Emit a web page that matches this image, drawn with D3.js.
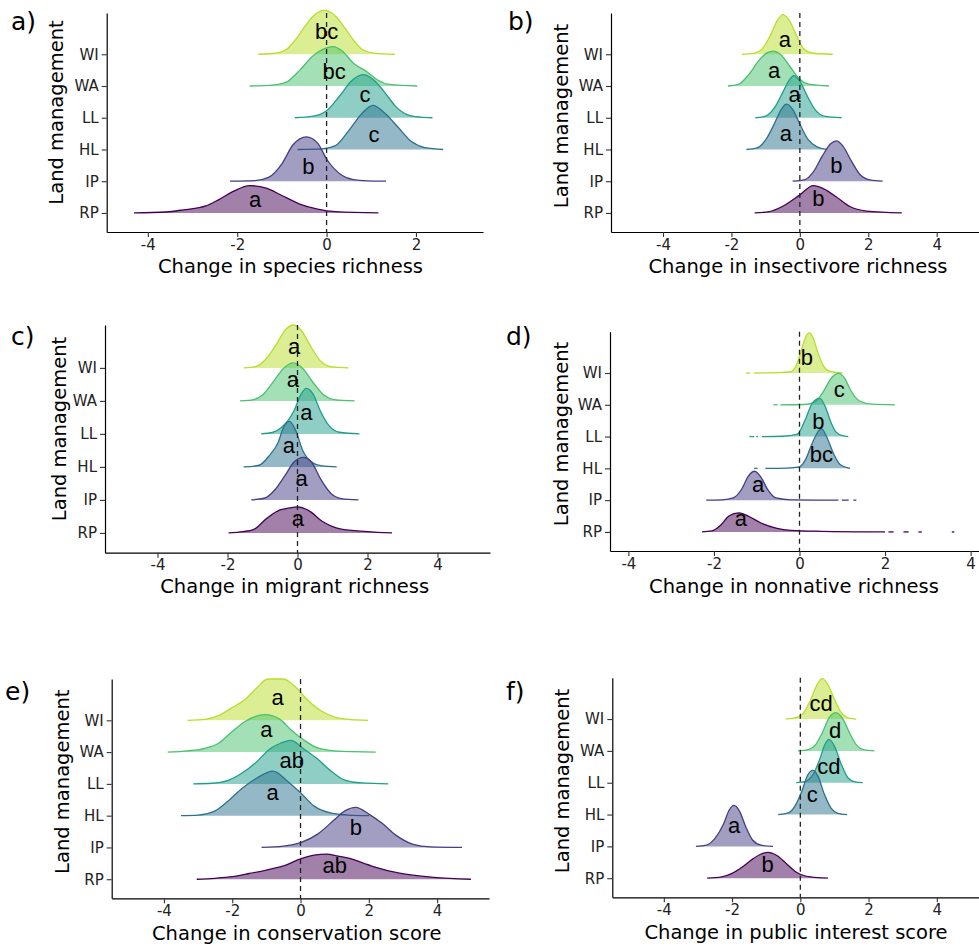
<!DOCTYPE html>
<html>
<head>
<meta charset="utf-8">
<script src="https://cdn.jsdelivr.net/npm/d3@7"></script>
<style>
  body { margin: 0; background: #fff; }
  text { font-family: "DejaVu Sans", sans-serif; }
</style>
</head>
<body>
<script>
// land management groups, bottom to top on the y axis
var groups = ["RP", "IP", "HL", "LL", "WA", "WI"];
// ridge colours, same order as groups
var ridgeColors = ["#440154", "#433e85", "#2c718e", "#1f9e89", "#49c16d", "#b8de29"];

// each ridge: [x, height above its baseline in category units], listed WI, WA, LL, HL, IP, RP
var richRidges = [
  [[-1.53,0],[-1.1,0.04],[-0.9,0.15],[-0.7,0.45],[-0.5,0.85],[-0.3,1.2],[-0.05,1.38],[0.2,1.2],[0.4,0.85],[0.6,0.45],[0.8,0.15],[1.1,0.03],[1.53,0]],
  [[-1.72,0],[-1.2,0.03],[-0.9,0.12],[-0.6,0.5],[-0.3,0.95],[0.0,1.2],[0.15,1.24],[0.35,1.1],[0.6,0.72],[0.9,0.45],[1.15,0.18],[1.4,0.05],[2.03,0]],
  [[-0.71,0],[-0.3,0.05],[0.0,0.22],[0.3,0.7],[0.55,1.15],[0.82,1.36],[1.05,1.2],[1.3,0.8],[1.55,0.35],[1.8,0.1],[2.1,0.02],[2.37,0]],
  [[-0.65,0],[-0.1,0.02],[0.2,0.12],[0.5,0.6],[0.8,1.15],[1.04,1.39],[1.3,1.15],[1.6,0.7],[1.9,0.25],[2.2,0.06],[2.61,0]],
  [[-2.16,0],[-1.6,0.02],[-1.3,0.12],[-1.0,0.55],[-0.75,1.15],[-0.45,1.4],[-0.2,1.2],[0.0,0.7],[0.35,0.18],[0.6,0.05],[0.9,0.01],[1.33,0]],
  [[-4.31,0],[-3.6,0.03],[-3.2,0.1],[-2.7,0.22],[-2.4,0.43],[-2.1,0.67],[-1.72,0.86],[-1.35,0.78],[-1.0,0.55],[-0.6,0.28],[-0.2,0.12],[0.2,0.04],[1.16,0]]
];
var richLetters = ["bc", "bc", "c", "c", "b", "a"];
var richLetterX = [0, 0.17, 0.86, 1.06, -0.41, -1.6];
var richLetterH = [0.48, 0.23, 0.49, 0.24, 0.23, 0.19];

var insectRidges = [
  [[-1.69,0],[-1.35,0.03],[-1.1,0.17],[-0.85,0.62],[-0.65,1.08],[-0.49,1.25],[-0.3,1.05],[-0.1,0.6],[0.1,0.18],[0.35,0.04],[0.96,0]],
  [[-2.1,0],[-1.8,0.05],[-1.5,0.35],[-1.2,0.8],[-0.95,1.05],[-0.78,1.1],[-0.55,0.98],[-0.3,0.63],[-0.05,0.27],[0.25,0.06],[0.85,0]],
  [[-1.3,0],[-1.0,0.05],[-0.75,0.3],[-0.5,0.8],[-0.3,1.2],[-0.18,1.33],[0.0,1.15],[0.2,0.72],[0.45,0.25],[0.75,0.04],[1.22,0]],
  [[-1.56,0],[-1.25,0.05],[-1.0,0.3],[-0.75,0.8],[-0.55,1.25],[-0.39,1.43],[-0.2,1.25],[0.0,0.8],[0.25,0.3],[0.5,0.08],[0.78,0]],
  [[-0.21,0],[0.15,0.05],[0.4,0.3],[0.65,0.78],[0.9,1.18],[1.07,1.27],[1.25,1.12],[1.5,0.65],[1.75,0.22],[2.05,0.04],[2.42,0]],
  [[-1.32,0],[-0.9,0.04],[-0.5,0.21],[0.0,0.57],[0.39,0.86],[0.7,0.76],[1.05,0.52],[1.45,0.21],[1.95,0.06],[2.98,0]]
];
var insectLetters = ["a", "a", "a", "a", "b", "b"];
var insectLetterX = [-0.44, -0.75, -0.15, -0.41, 1.07, 0.54];
var insectLetterH = [0.23, 0.26, 0.5, 0.26, 0.26, 0.21];

var migrantRidges = [
  [[-1.54,0],[-1.2,0.04],[-0.9,0.27],[-0.6,0.72],[-0.35,1.15],[-0.11,1.3],[0.1,1.15],[0.35,0.7],[0.65,0.22],[0.95,0.04],[1.46,0]],
  [[-1.64,0],[-1.25,0.04],[-1.0,0.18],[-0.7,0.57],[-0.4,0.98],[-0.13,1.15],[0.15,0.98],[0.45,0.55],[0.75,0.18],[1.05,0.04],[1.63,0]],
  [[-1.04,0],[-0.7,0.05],[-0.45,0.2],[-0.1,0.7],[0.1,1.2],[0.25,1.38],[0.45,1.2],[0.65,0.7],[0.9,0.25],[1.2,0.05],[1.77,0]],
  [[-1.54,0],[-1.1,0.05],[-0.8,0.35],[-0.55,0.75],[-0.4,1.2],[-0.23,1.38],[-0.05,1.1],[0.15,0.5],[0.4,0.15],[0.7,0.03],[1.12,0]],
  [[-1.32,0],[-0.95,0.05],[-0.65,0.3],[-0.35,0.75],[-0.1,1.15],[0.17,1.29],[0.4,1.15],[0.65,0.65],[0.95,0.2],[1.25,0.04],[1.74,0]],
  [[-1.97,0],[-1.55,0.04],[-1.26,0.1],[-0.88,0.44],[-0.5,0.7],[-0.3,0.74],[0.0,0.79],[0.3,0.69],[0.74,0.33],[1.22,0.12],[1.98,0.04],[2.7,0]]
];
var migrantLetters = ["a", "a", "a", "a", "a", "a"];
var migrantLetterX = [-0.1, -0.13, 0.25, -0.25, 0.12, 0.01];
var migrantLetterH = [0.41, 0.41, 0.41, 0.42, 0.41, 0.2];

var nonnativeRidges = [
  [[-1.06,0],[-0.5,0.01],[-0.2,0.04],[-0.06,0.29],[0.05,0.75],[0.15,1.15],[0.23,1.26],[0.32,1.1],[0.42,0.68],[0.55,0.25],[0.7,0.06],[1.0,0]],
  [[-0.45,0],[0.1,0.01],[0.35,0.08],[0.55,0.4],[0.75,0.85],[0.91,0.99],[1.05,0.85],[1.2,0.45],[1.4,0.12],[1.7,0.02],[2.23,0]],
  [[-0.88,0],[-0.4,0.01],[-0.05,0.08],[0.13,0.52],[0.3,1.05],[0.47,1.2],[0.6,0.95],[0.72,0.5],[0.85,0.15],[1.0,0.03],[1.14,0]],
  [[-0.8,0],[-0.3,0.01],[0.0,0.05],[0.15,0.3],[0.3,0.8],[0.51,1.25],[0.65,0.95],[0.8,0.45],[0.95,0.12],[1.18,0]],
  [[-2.18,0],[-1.8,0.01],[-1.55,0.07],[-1.35,0.35],[-1.2,0.75],[-1.05,0.91],[-0.9,0.72],[-0.75,0.35],[-0.55,0.07],[-0.2,0.01],[0.91,0]],
  [[-2.28,0],[-2.05,0.03],[-1.85,0.2],[-1.65,0.5],[-1.42,0.6],[-1.2,0.5],[-0.9,0.28],[-0.55,0.12],[-0.2,0.05],[0.5,0.02],[2.0,0]]
];
// broken bits of baseline in the tails of panel d
var nonnativeTails = [
  [[-1.25,-1.15]],
  [[-0.61,-0.51]],
  [[-1.17,-1.06],[-1.01,-0.97]],
  [[-1.06,-0.98]],
  [[0.99,1.15],[1.26,1.33]],
  [[2.08,2.2],[2.43,2.55],[2.78,2.86],[3.56,3.62]]
];
var nonnativeLetters = ["b", "c", "b", "bc", "a", "a"];
var nonnativeLetterX = [0.17, 0.93, 0.44, 0.51, -0.97, -1.37];
var nonnativeLetterH = [0.24, 0.24, 0.23, 0.2, 0.25, 0.2];

var conservRidges = [
  [[-3.31,0],[-2.8,0.03],[-2.4,0.15],[-2.0,0.4],[-1.6,0.68],[-1.3,1.0],[-0.95,1.3],[-0.5,1.3],[-0.2,1.1],[0.2,0.65],[0.6,0.3],[1.0,0.1],[1.5,0.02],[1.98,0]],
  [[-3.89,0],[-3.3,0.04],[-2.8,0.12],[-2.4,0.28],[-2.0,0.65],[-1.6,0.98],[-1.04,1.18],[-0.6,1.03],[-0.3,0.72],[0.1,0.38],[0.5,0.13],[1.0,0.04],[2.2,0]],
  [[-3.14,0],[-2.6,0.02],[-2.1,0.12],[-1.7,0.35],[-1.3,0.68],[-0.9,1.1],[-0.6,1.27],[-0.29,1.37],[0.1,1.1],[0.5,0.78],[0.9,0.4],[1.3,0.12],[1.8,0.03],[2.57,0]],
  [[-3.5,0],[-3.0,0.02],[-2.5,0.15],[-2.1,0.48],[-1.7,0.87],[-1.3,1.17],[-0.8,1.4],[-0.4,1.1],[0.0,0.72],[0.4,0.3],[0.9,0.08],[1.4,0.02],[2.0,0]],
  [[-1.14,0],[-0.5,0.04],[0.0,0.15],[0.5,0.42],[1.0,0.88],[1.3,1.15],[1.62,1.26],[2.0,1.05],[2.4,0.75],[2.8,0.38],[3.3,0.1],[3.8,0.02],[4.73,0]],
  [[-3.04,0],[-2.5,0.03],[-2.0,0.08],[-1.5,0.18],[-1.0,0.29],[-0.5,0.42],[0.0,0.64],[0.4,0.76],[0.76,0.79],[1.1,0.73],[1.44,0.66],[1.8,0.52],[2.13,0.4],[2.9,0.19],[3.9,0.06],[4.99,0]]
];
var conservLetters = ["a", "a", "ab", "a", "b", "ab"];
var conservLetterX = [-0.67, -1.0, -0.26, -0.82, 1.62, 1.0];
var conservLetterH = [0.49, 0.49, 0.49, 0.5, 0.4, 0.19];

var publicRidges = [
  [[-0.43,0],[-0.1,0.05],[0.1,0.2],[0.3,0.6],[0.5,1.1],[0.64,1.27],[0.8,1.1],[1.0,0.62],[1.2,0.2],[1.4,0.04],[1.64,0]],
  [[-0.07,0],[0.25,0.05],[0.45,0.2],[0.65,0.58],[0.85,1.05],[1.05,1.2],[1.25,1.0],[1.45,0.55],[1.65,0.18],[1.85,0.04],[2.17,0]],
  [[-0.12,0],[0.15,0.04],[0.35,0.22],[0.55,0.68],[0.72,1.2],[0.84,1.36],[1.0,1.15],[1.2,0.58],[1.4,0.15],[1.6,0.03],[1.83,0]],
  [[-0.65,0],[-0.35,0.05],[-0.15,0.28],[0.05,0.75],[0.22,1.25],[0.37,1.39],[0.52,1.2],[0.7,0.65],[0.9,0.2],[1.1,0.04],[1.37,0]],
  [[-3.06,0],[-2.75,0.04],[-2.5,0.25],[-2.25,0.7],[-2.08,1.15],[-1.94,1.29],[-1.78,1.1],[-1.6,0.62],[-1.4,0.2],[-1.15,0.04],[-0.8,0]],
  [[-2.73,0],[-2.3,0.04],[-2.0,0.15],[-1.7,0.35],[-1.4,0.6],[-1.15,0.76],[-0.94,0.81],[-0.7,0.72],[-0.4,0.45],[-0.1,0.18],[0.3,0.04],[0.81,0]]
];
var publicLetters = ["cd", "d", "cd", "c", "a", "b"];
var publicLetterX = [0.61, 1.02, 0.84, 0.35, -1.94, -0.96];
var publicLetterH = [0.26, 0.4, 0.26, 0.4, 0.42, 0.21];

var xTicks = [-4, -2, 0, 2, 4];

var panels = [
  {tag: "a)", title: "Change in species richness", ridges: richRidges, letters: richLetters, lx: richLetterX, lh: richLetterH,
   box: {l: 106.7, r: 483, t: 13, b: 232}, xdom: [-4.92, 3.5], tagXY: [11, 30], ylabXY: [62.5, 112.5], xlabXY: [290.5, 273]},
  {tag: "b)", title: "Change in insectivore richness", ridges: insectRidges, letters: insectLetters, lx: insectLetterX, lh: insectLetterH,
   box: {l: 611, r: 988, t: 13, b: 232}, xdom: [-5.52, 5.5], tagXY: [508, 30], ylabXY: [568, 116], xlabXY: [798, 273]},
  {tag: "c)", title: "Change in migrant richness", ridges: migrantRidges, letters: migrantLetters, lx: migrantLetterX, lh: migrantLetterH,
   box: {l: 105, r: 490, t: 325, b: 552.7}, xdom: [-5.5, 5.5], tagXY: [11, 345], ylabXY: [65.5, 429], xlabXY: [294.7, 592.5]},
  {tag: "d)", title: "Change in nonnative richness", ridges: nonnativeRidges, letters: nonnativeLetters, lx: nonnativeLetterX, lh: nonnativeLetterH,
   tails: nonnativeTails,
   box: {l: 610, r: 989, t: 331.7, b: 551}, xdom: [-4.43, 4.43], tagXY: [506, 345], ylabXY: [567.5, 434], xlabXY: [794, 593]},
  {tag: "e)", title: "Change in conservation score", ridges: conservRidges, letters: conservLetters, lx: conservLetterX, lh: conservLetterH,
   box: {l: 111.7, r: 489, t: 679, b: 898.3}, xdom: [-5.53, 5.52], tagXY: [5, 700], ylabXY: [69, 781.7], xlabXY: [296.7, 940]},
  {tag: "f)", title: "Change in public interest score", ridges: publicRidges, letters: publicLetters, lx: publicLetterX, lh: publicLetterH,
   box: {l: 612.3, r: 988, t: 677.7, b: 897.3}, xdom: [-5.51, 5.5], tagXY: [506, 700], ylabXY: [569, 781], xlabXY: [796, 939]}
];

var svg = d3.select("body").append("svg")
  .attr("width", 979)
  .attr("height", 947)
  .style("background", "#fff");

// ridge order in the arrays is WI..RP, i.e. top to bottom
var ridgeOrder = ["WI", "WA", "LL", "HL", "IP", "RP"];

panels.forEach(function(p) {
  var g = svg.append("g");
  var x = d3.scaleLinear().domain(p.xdom).range([p.box.l, p.box.r]);
  var y = d3.scaleLinear().domain([0.4, 7.3]).range([p.box.b, p.box.t]);

  // ridges, top group first so lower ones sit on top
  p.ridges.forEach(function(pts, i) {
    var name = ridgeOrder[i];
    var k = groups.indexOf(name) + 1;
    var col = ridgeColors[groups.indexOf(name)];
    var area = d3.area()
      .curve(d3.curveMonotoneX)
      .x(function(d) { return x(d[0]); })
      .y0(y(k))
      .y1(function(d) { return y(k + d[1]); });
    var line = d3.line()
      .curve(d3.curveMonotoneX)
      .x(function(d) { return x(d[0]); })
      .y(function(d) { return y(k + d[1]); });
    g.append("path")
      .datum(pts)
      .attr("d", area)
      .attr("fill", col)
      .attr("fill-opacity", 0.5);
    g.append("path")
      .datum(pts)
      .attr("d", line)
      .attr("fill", "none")
      .attr("stroke", col)
      .attr("stroke-width", 1.3);
    if (p.tails) {
      g.selectAll(null)
        .data(p.tails[i])
        .enter().append("line")
          .attr("x1", function(d) { return x(d[0]); })
          .attr("x2", function(d) { return x(d[1]); })
          .attr("y1", y(k))
          .attr("y2", y(k))
          .attr("stroke", col)
          .attr("stroke-width", 1.3);
    }
  });

  // zero line
  g.append("line")
    .attr("x1", x(0)).attr("x2", x(0))
    .attr("y1", p.box.t).attr("y2", p.box.b)
    .attr("stroke", "#222")
    .attr("stroke-width", 1.3)
    .attr("stroke-dasharray", "5,4");

  // letters
  g.selectAll("text.letter")
    .data(p.letters)
    .enter().append("text")
      .attr("class", "letter")
      .attr("x", function(d, i) { return x(p.lx[i]); })
      .attr("y", function(d, i) { return y(groups.indexOf(ridgeOrder[i]) + 1 + p.lh[i]); })
      .attr("text-anchor", "middle")
      .style("font-family", "'Liberation Sans', Arial, sans-serif")
      .style("font-size", "22px")
      .attr("fill", "#000")
      .text(function(d) { return d; });

  // axes
  var xAxis = d3.axisBottom(x)
    .tickValues(xTicks.filter(function(t) { return t >= p.xdom[0] && t <= p.xdom[1]; }))
    .tickFormat(function(d) { return d; })
    .tickSize(5).tickSizeOuter(0).tickPadding(2);
  var yAxis = d3.axisLeft(y)
    .tickValues([1, 2, 3, 4, 5, 6])
    .tickFormat(function(d) { return groups[d - 1]; })
    .tickSize(5).tickSizeOuter(0).tickPadding(3);

  var gx = g.append("g").attr("transform", "translate(0," + p.box.b + ")").call(xAxis);
  var gy = g.append("g").attr("transform", "translate(" + p.box.l + ",0)").call(yAxis);
  [gx, gy].forEach(function(ax) {
    ax.select(".domain").attr("stroke", "#000").attr("stroke-width", 1.2);
    ax.selectAll(".tick line").attr("stroke", "#333").attr("stroke-width", 1.1);
    ax.selectAll(".tick text")
      .style("font-family", "'DejaVu Sans', sans-serif")
      .style("font-size", "15px")
      .attr("fill", "#222");
  });

  // titles
  g.append("text")
    .attr("x", p.xlabXY[0]).attr("y", p.xlabXY[1])
    .attr("text-anchor", "middle")
    .style("font-size", "19.5px")
    .attr("fill", "#000")
    .text(p.title);
  g.append("text")
    .attr("transform", "translate(" + p.ylabXY[0] + "," + p.ylabXY[1] + ") rotate(-90)")
    .attr("text-anchor", "middle")
    .style("font-size", "19.5px")
    .attr("fill", "#000")
    .text("Land management");
  g.append("text")
    .attr("x", p.tagXY[0]).attr("y", p.tagXY[1])
    .style("font-size", "25px")
    .attr("fill", "#000")
    .text(p.tag);
});
</script>
</body>
</html>
